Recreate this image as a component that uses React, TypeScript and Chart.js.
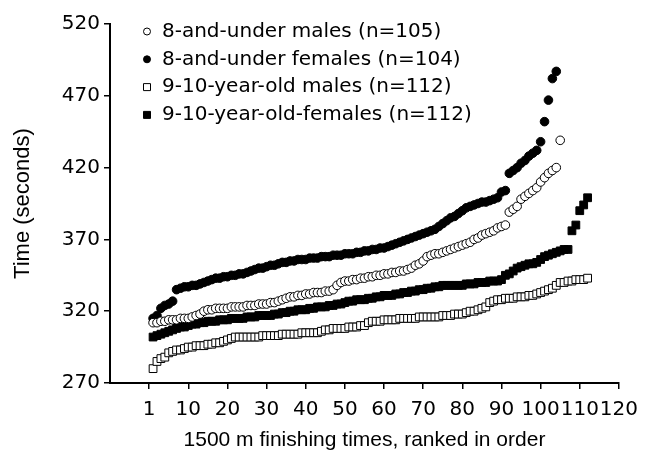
import React, { useEffect, useRef } from "react";
import { Chart, registerables } from "chart.js";

Chart.register(...registerables);

const seriesLabels = [
  "8-and-under males (n=105)",
  "8-and-under females (n=104)",
  "9-10-year-old males (n=112)",
  "9-10-year-old-females (n=112)",
];

const males8 = [
  312, 312, 313, 313, 314, 314, 314, 315, 315, 315,
  316, 317, 318, 320, 321, 321, 322, 322, 322, 322,
  323, 323, 323, 323, 324, 324, 324, 325, 325, 325,
  326, 326, 327, 328, 329, 330, 330, 331, 331, 332,
  332, 333, 333, 333, 334, 334, 335, 338, 340, 341,
  341, 342, 342, 343, 343, 344, 344, 345, 345, 346,
  346, 347, 347, 348, 348, 349, 350, 352, 353, 355,
  358, 359, 360, 360, 361, 362, 363, 364, 365, 366,
  367, 368, 370, 371, 373, 374, 375, 376, 378, 379,
  380, 389, 391, 393, 398, 400, 402, 404, 406, 410,
  413, 416, 418, 420, 439,
];

const females8 = [
  315, 317, 322, 324, 325, 327, 335, 336, 337, 337,
  338, 338, 339, 340, 341, 342, 343, 343, 344, 344,
  345, 345, 346, 346, 347, 348, 349, 350, 350, 351,
  352, 352, 353, 354, 354, 355, 355, 356, 356, 356,
  357, 357, 357, 358, 358, 358, 359, 359, 359, 360,
  360, 360, 361, 361, 362, 362, 363, 363, 364, 364,
  365, 366, 367, 368, 369, 370, 371, 372, 373, 374,
  375, 376, 377, 379, 381, 383, 385, 386, 388, 390,
  392, 393, 394, 395, 396, 396, 397, 398, 399, 403,
  404, 416, 418, 420, 423, 425, 428, 430, 432, 438,
  452, 467, 482, 487,
];

const males910 = [
  280, 285, 287, 288, 291, 292, 293, 293, 294, 295,
  295, 296, 296, 296, 297, 297, 298, 298, 299, 300,
  301, 302, 302, 302, 302, 302, 302, 302, 303, 303,
  303, 303, 303, 304, 304, 304, 304, 304, 305, 305,
  305, 305, 305, 306, 307, 307, 308, 308, 308, 308,
  309, 309, 309, 310, 310, 312, 313, 313, 313, 314,
  314, 314, 314, 315, 315, 315, 315, 315, 316, 316,
  316, 316, 316, 316, 317, 317, 317, 318, 318, 318,
  319, 320, 320, 321, 322, 323, 326, 327, 328, 328,
  329, 329, 329, 330, 330, 330, 331, 331, 332, 333,
  334, 335, 336, 338, 340, 340, 341, 341, 342, 342,
  342, 343,
];

const females910 = [
  302, 303, 304, 305, 306, 307, 308, 309, 309, 310,
  311, 311, 312, 312, 313, 313, 313, 314, 314, 314,
  315, 315, 315, 315, 316, 316, 316, 317, 317, 317,
  317, 318, 318, 319, 319, 320, 320, 321, 321, 321,
  322, 322, 323, 323, 323, 324, 324, 325, 325, 326,
  327, 327, 328, 328, 328, 329, 329, 330, 330, 331,
  331, 331, 332, 332, 333, 333, 334, 334, 335, 335,
  336, 336, 337, 337, 338, 338, 338, 338, 338, 338,
  339, 339, 339, 340, 340, 340, 341, 341, 341, 342,
  345, 346, 348, 350, 351, 352, 353, 353, 354, 356,
  358, 359, 360, 361, 362, 363, 363, 376, 380, 390,
  394, 399,
];

const xTickValues = [0, 10, 20, 30, 40, 50, 60, 70, 80, 90, 100, 110, 120];
const xTickLabels = ["1", "10", "20", "30", "40", "50", "60", "70", "80", "90", "100", "110", "120"];
const yTickValues = [270, 320, 370, 420, 470, 520];

const FONT = "DejaVu Sans";
const TITLE_FONT = "Liberation Sans";

const styles = [
  { pointStyle: "circle", filled: false, radius: 4.3 },
  { pointStyle: "circle", filled: true, radius: 4.3 },
  { pointStyle: "rect", filled: false, radius: 5.5 },
  { pointStyle: "rect", filled: true, radius: 5.5 },
];

const toPoints = (arr: number[]) => arr.map((v, i) => ({ x: i + 1, y: v }));

const legendPlugin = {
  id: "insideLegend",
  afterDraw(chart: any) {
    const ctx = chart.ctx;
    ctx.save();
    ctx.font = `20px "${FONT}"`;
    ctx.textBaseline = "middle";
    ctx.textAlign = "left";
    seriesLabels.forEach((label, i) => {
      const y = 31.5 + 27.8 * i;
      const mx = 147;
      const st = styles[i];
      ctx.beginPath();
      ctx.lineWidth = 1;
      ctx.strokeStyle = "#000";
      ctx.fillStyle = st.filled ? "#000" : "#fff";
      if (st.pointStyle === "circle") {
        ctx.arc(mx, y, 3.5, 0, Math.PI * 2);
      } else {
        ctx.rect(mx - 3.5, y - 3.5, 7, 7);
      }
      ctx.fill();
      ctx.stroke();
      ctx.fillStyle = "#000";
      ctx.fillText(label, 162, y);
    });
    ctx.restore();
  },
};

export default function App() {
  const ref = useRef<HTMLCanvasElement | null>(null);

  useEffect(() => {
    document.body.style.margin = "0";
    const canvas = ref.current;
    if (!canvas) return;
    Chart.defaults.font.family = FONT;
    Chart.defaults.color = "#000";
    const seriesData = [males8, females8, males910, females910];
    const chart = new Chart(canvas, {
      type: "scatter",
      data: {
        datasets: seriesData.map((arr, i) => ({
          label: seriesLabels[i],
          data: toPoints(arr),
          pointStyle: styles[i].pointStyle as any,
          pointRadius: styles[i].radius,
          pointHoverRadius: styles[i].radius,
          pointBorderWidth: 1,
          pointBorderColor: "#000",
          pointBackgroundColor: styles[i].filled ? "#000" : "#fff",
          showLine: false,
        })),
      },
      options: {
        animation: false,
        responsive: false,
        maintainAspectRatio: false,
        devicePixelRatio: 1,
        layout: { padding: { top: 24, right: 23, left: 0, bottom: 0 } },
        plugins: {
          legend: { display: false },
          tooltip: { enabled: false },
        },
        scales: {
          x: {
            type: "linear",
            min: -10,
            max: 120,
            afterBuildTicks: (scale: any) => {
              scale.ticks = xTickValues.map((v) => ({ value: v }));
            },
            afterFit: (scale: any) => {
              scale.height = 75;
            },
            ticks: {
              font: { size: 20 },
              color: "#000",
              padding: 9,
              maxRotation: 0,
              autoSkip: false,
              callback: (v: any) => {
                const idx = xTickValues.indexOf(Number(v));
                return idx >= 0 ? xTickLabels[idx] : "";
              },
            },
            grid: {
              drawOnChartArea: false,
              drawTicks: true,
              tickLength: 6,
              color: "#000",
              lineWidth: 1.5,
            },
            border: { display: true, color: "#000", width: 2 },
            title: {
              display: true,
              text: "1500 m finishing times, ranked in order",
              font: { size: 21, family: TITLE_FONT },
              color: "#000",
              padding: { top: 0, bottom: 5 },
            },
          },
          y: {
            type: "linear",
            min: 270,
            max: 520,
            afterBuildTicks: (scale: any) => {
              scale.ticks = yTickValues.map((v) => ({ value: v }));
            },
            afterFit: (scale: any) => {
              scale.width = 110;
            },
            ticks: {
              font: { size: 20 },
              color: "#000",
              padding: 4,
            },
            grid: {
              drawOnChartArea: false,
              drawTicks: true,
              tickLength: 6,
              color: "#000",
              lineWidth: 1.5,
            },
            border: { display: true, color: "#000", width: 2 },
            title: {
              display: true,
              text: "Time (seconds)",
              font: { size: 22, family: TITLE_FONT },
              color: "#000",
              padding: { top: 10, bottom: 0 },
            },
          },
        },
      },
      plugins: [legendPlugin],
    });
    return () => chart.destroy();
  }, []);

  return (
    <div style={{ width: 647, height: 458 }}>
      <canvas ref={ref} width={647} height={458} style={{ display: "block" }} />
    </div>
  );
}
